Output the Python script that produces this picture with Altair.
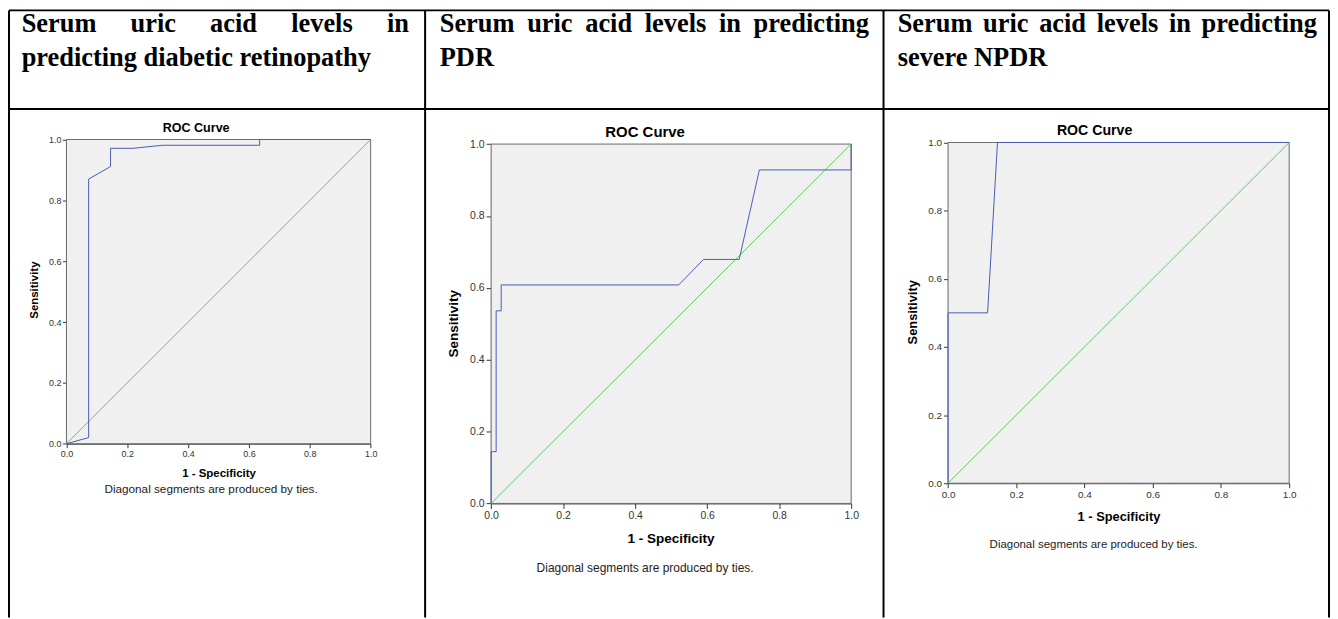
import altair as alt
import pandas as pd

# ---------------- data ----------------
header_line1 = [
    ["Serum", "uric", "acid", "levels", "in"],
    ["Serum", "uric", "acid", "levels", "in", "predicting"],
    ["Serum", "uric", "acid", "levels", "in", "predicting"],
]
header_line2 = ["predicting diabetic retinopathy", "PDR", "severe NPDR"]

roc_title = "ROC Curve"
x_axis_title = "1 - Specificity"
y_axis_title = "Sensitivity"
note_text = "Diagonal segments are produced by ties."
tick_values = [0.0, 0.2, 0.4, 0.6, 0.8, 1.0]
reference_line = [0.0, 1.0]

# panel 1: diabetic retinopathy
p1_fpr = [0.0, 0.073, 0.073, 0.145, 0.145, 0.218, 0.316, 0.635, 0.635, 1.0]
p1_tpr = [0.0, 0.020, 0.870, 0.911, 0.971, 0.971, 0.981, 0.981, 1.0, 1.0]
# panel 2: PDR
p2_fpr = [0.0, 0.0, 0.014, 0.014, 0.028, 0.028, 0.521, 0.590, 0.689, 0.745, 1.0, 1.0]
p2_tpr = [0.0, 0.144, 0.144, 0.536, 0.536, 0.608, 0.608, 0.679, 0.679, 0.928, 0.928, 1.0]
# panel 3: severe NPDR
p3_fpr = [0.0, 0.0, 0.116, 0.145, 1.0]
p3_tpr = [0.0, 0.5, 0.5, 1.0, 1.0]

curves = [(p1_fpr, p1_tpr), (p2_fpr, p2_tpr), (p3_fpr, p3_tpr)]

# ---------------- layout (page pixels; chart starts at page 8,8) ----------------
M = 8
W, H = 1328, 611
BLUE = "#4a5db2"
GREEN = "#62c862"
SANS = "Liberation Sans"
SERIF = "Liberation Serif"

# Times-Bold advance widths (per 1000 em) for justified header lines
TB = {"S": 556, "e": 444, "r": 444, "u": 556, "m": 833, "i": 278, "c": 444,
      "a": 500, "d": 556, "l": 278, "v": 500, "s": 389, "n": 556, "p": 556,
      "t": 333, "g": 500, " ": 250, "o": 500, "h": 556, "y": 500, "b": 556}
HFS = 26.5
col_lr = [(21.7, 410.7), (441.7, 873.3), (901.7, 1323.3)]
line1_base, line2_base = 31, 65

panels = [
    dict(box=(66.7, 138.7, 372.3, 444.3), title=(197, 127.5, 12.6), xt=(220, 475, 11.5),
         yt=(35, 290, 11.5), note=(212, 490, 11.8), tfs=9, tlen=4, pad=1.5),
    dict(box=(493.3, 143.3, 855.0, 504.3), title=(648, 131, 15), xt=(674, 540, 13.6),
         yt=(456, 323.8, 13.6), note=(648, 569, 12), tfs=10.5, tlen=5, pad=2),
    dict(box=(952.3, 141.7, 1295.0, 484.0), title=(1099.5, 130.5, 14.2), xt=(1124, 518.3, 12.9),
         yt=(917.3, 312.3, 12.9), note=(1098.5, 546, 11.5), tfs=10, tlen=4.5, pad=2),
]

layers = []


def one(v):
    return pd.DataFrame({"t": [v]})


def rule(x1, y1, x2, y2, w=2):
    return alt.Chart(one(0)).mark_rule(color="black", strokeWidth=w).encode(
        x=alt.value(x1 - M), x2=alt.value(x2 - M), y=alt.value(y1 - M), y2=alt.value(y2 - M))


def text(s, x, y, size, bold=False, font=SANS, align="center", baseline="middle", angle=None, color="black"):
    kw = dict(font=font, fontSize=size, align=align, baseline=baseline, color=color)
    if bold:
        kw["fontWeight"] = "bold"
    if angle is not None:
        kw["angle"] = angle
    return alt.Chart(one(s)).mark_text(**kw).encode(
        text="t:N", x=alt.value(x - M), y=alt.value(y - M))


# table borders
top_y, head_y, left_x, div1, div2, right_x = 9, 108, 9, 427, 887.5, 1335
layers += [
    rule(left_x, top_y, right_x, top_y),
    rule(left_x, head_y, right_x, head_y),
    rule(left_x, top_y, left_x, 619),
    rule(div1, top_y, div1, 619),
    rule(div2, top_y, div2, 619),
    rule(right_x, top_y, right_x, 619),
]

# header text (line 1 justified, line 2 left aligned)
for words, l2, (L, R) in zip(header_line1, header_line2, col_lr):
    widths = [sum(TB[c] for c in w) / 1000 * HFS for w in words]
    gap = (R - L - sum(widths)) / (len(words) - 1)
    x = L
    for w, wd in zip(words, widths):
        layers.append(text(w, x, line1_base, HFS, bold=True, font=SERIF, align="left", baseline="alphabetic"))
        x += wd + gap
    layers.append(text(l2, L, line2_base, HFS, bold=True, font=SERIF, align="left", baseline="alphabetic"))

# ROC panels
for (fpr, tpr), p in zip(curves, panels):
    x0, y0, x1, y1 = p["box"]
    xs = alt.Scale(domain=[0, 1], range=[x0 - M, x1 - M], nice=False, zero=False)
    ys = alt.Scale(domain=[0, 1], range=[y1 - M, y0 - M], nice=False, zero=False)
    common = dict(values=tick_values, format=".1f", title=None, grid=False,
                  tickSize=p["tlen"], labelFontSize=p["tfs"], labelFont=SANS,
                  labelColor="#333", tickColor="#333", domainColor="#333",
                  labelPadding=p["pad"], labelFlush=False, labelOverlap=False, zindex=0)
    xaxis = alt.Axis(orient="bottom", offset=(y1 - M) - H, **common)
    yaxis = alt.Axis(orient="left", offset=-(x0 - M), **common)

    frame_df = pd.DataFrame({"lo": [reference_line[0]], "hi": [reference_line[1]]})
    frame = alt.Chart(frame_df).mark_rect(fill="#f0f0f0", stroke="#6a6a6a", strokeWidth=1).encode(
        x=alt.X("lo:Q", scale=xs, axis=xaxis), x2="hi:Q",
        y=alt.Y("lo:Q", scale=ys, axis=yaxis), y2="hi:Q")

    diag_df = pd.DataFrame({"fpr": reference_line, "tpr": reference_line})
    diag = alt.Chart(diag_df).mark_line(color=GREEN, strokeWidth=1).encode(
        x=alt.X("fpr:Q", scale=xs, axis=None), y=alt.Y("tpr:Q", scale=ys, axis=None))

    cdf = pd.DataFrame({"fpr": fpr, "tpr": tpr, "i": list(range(len(fpr)))})
    curve = alt.Chart(cdf).mark_line(color=BLUE, strokeWidth=1).encode(
        x=alt.X("fpr:Q", scale=xs, axis=None), y=alt.Y("tpr:Q", scale=ys, axis=None),
        order="i:Q")

    layers += [frame, diag, curve]
    tx, ty, tfs = p["title"]
    layers.append(text(roc_title, tx, ty, tfs, bold=True))
    ax, ay, afs = p["xt"]
    layers.append(text(x_axis_title, ax, ay, afs, bold=True))
    bx, by, bfs = p["yt"]
    layers.append(text(y_axis_title, bx, by, bfs, bold=True, angle=270))
    nx, ny, nfs = p["note"]
    layers.append(text(note_text, nx, ny, nfs, color="#222"))

chart = alt.layer(*layers).resolve_scale(x="independent", y="independent").properties(
    width=W, height=H, padding=0, autosize=alt.AutoSizeParams(type="none"),
    background="white",
).configure_view(stroke=None)

chart.save("out.html", embed_options={"renderer": "svg", "actions": False})
